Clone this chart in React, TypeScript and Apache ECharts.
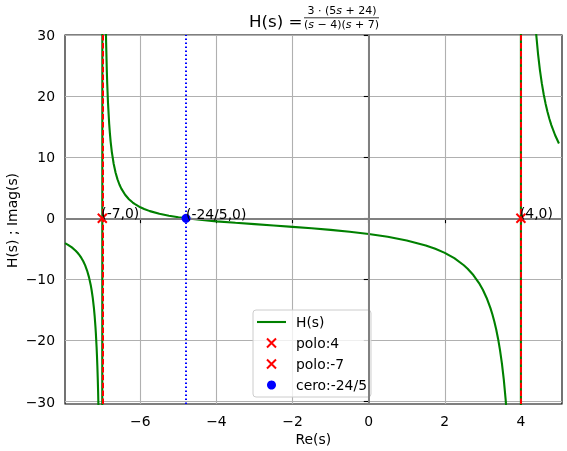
import { useEffect, useRef } from 'react';
import * as echarts from 'echarts';

// H(s), one continuous line that jumps across both poles
const curveX = [
    -7.98, -7.9, -7.8, -7.7, -7.65, -7.6, -7.55, -7.5, -7.45, -7.4, -7.35, -7.3, -7.28, -7.25, -7.22, -7.2, -7.18, -7.17,
    -7.15, -7.14, -7.13, -7.12, -7.11, -7.1, -7.08, -7.01,
    -6.99, -6.97, -6.95, -6.92, -6.9, -6.88, -6.87, -6.85, -6.82, -6.8, -6.78, -6.75, -6.7, -6.65, -6.6, -6.55, -6.5,
    -6.4, -6.3, -6.2, -6.15, -6, -5.9, -5.75, -5.5, -5.25, -5,
    -4.8, -4.5, -4, -3.5, -3, -2.5, -2, -1.5, -1, -0.5, 0, 0.5, 1, 1.5, 1.75, 2, 2.25, 2.5, 2.6, 2.75, 2.9,
    3, 3.1, 3.2, 3.25, 3.3, 3.35, 3.4, 3.45, 3.5, 3.55, 3.6, 3.65, 3.7, 3.99,
    4.01, 4.1, 4.3, 4.35, 4.4, 4.45, 4.5, 4.55, 4.6, 4.65, 4.7, 4.75, 4.8, 4.9, 5.0,
];
const curveY = [
    -4.063, -4.342, -4.767, -5.311, -5.645, -6.034, -6.494, -7.043, -7.715, -8.553, -9.629, -11.06, -11.78, -13.07, -14.71, -16.07, -17.74, -18.72,
    -21.08, -22.51, -24.16, -26.08, -28.35, -31.08, -38.58, -301.1,
    298.9, 98.9, 58.9, 36.4, 28.9, 23.9, 21.97, 18.89, 15.56, 13.89, 12.52, 10.88, 8.879, 7.445, 6.368, 5.529, 4.857,
    3.846, 3.121, 2.574, 2.347, 1.8, 1.515, 1.169, 0.7368, 0.417, 0.1667,
    0, -0.2118, -0.5, -0.7429, -0.9643, -1.179, -1.4, -1.636, -1.9, -2.205, -2.571, -3.029, -3.625, -4.447, -4.99, -5.667, -6.533, -7.684, -8.259, -9.292, -10.61,
    -11.7, -13.04, -14.71, -15.71, -16.85, -18.17, -19.71, -21.53, -23.71, -26.38, -29.72, -34.0, -39.72, -1199.7,
    1200.3, 120.3, 40.27, 34.55, 30.26, 26.93, 24.26, 22.08, 20.26, 18.72, 17.4, 16.26, 15.25, 13.59, 12.25,
];

const poles = [4, -7];
const zeros = [-4.8];
const pointLabels = ['(4,0)', '(-7,0)', '(-24/5,0)'];
const seriesNames = ['H(s)', 'polo:4', 'polo:-7', 'cero:-24/5'];

const xTicks = [-6, -4, -2, 0, 2, 4];
const yTicks = [-30, -20, -10, 0, 10, 20, 30];

const FONT = 'DejaVu Sans';
const CROSS = 'path://M0,0L10,10M0,10L10,0';
const LINE_ICON = 'path://M0,0L29,0L29,2.1L0,2.1Z';

const minus = (v: number) => (v < 0 ? '\u2212' + Math.abs(v) : String(v));

export default function App() {
    const chartRef = useRef<HTMLDivElement>(null);

    useEffect(() => {
        if (!chartRef.current) return;
        const chart = echarts.init(chartRef.current, null, { renderer: 'svg' });

        const curve = curveX.map((x, i) => [x, curveY[i]]);

        const vLine = (x: number, color: string, type: any) => ({
            xAxis: x,
            lineStyle: { color, width: 2, type },
        });

        const crossStyle = { color: 'red', borderColor: 'red', borderWidth: 2, opacity: 1 };

        const markerSeries = (name: string, x: number, label: string, symbol: string, isCross: boolean) => ({
            name,
            type: 'scatter',
            z: 5,
            data: [[x, 0]],
            symbol,
            symbolSize: 9,
            symbolKeepAspect: true,
            itemStyle: isCross ? crossStyle : { color: 'blue', opacity: 1 },
            label: {
                show: true,
                formatter: () => label,
                position: [4.5, 7],
                align: 'left',
                verticalAlign: 'bottom',
                fontFamily: FONT,
                fontSize: 13.9,
                color: '#000',
            },
            silent: true,
        });

        const option = {
            animation: false,
            textStyle: { fontFamily: FONT },
            grid: {
                left: 65,
                top: 35,
                right: 5,
                bottom: 47,
                show: true,
                borderColor: '#000',
                borderWidth: 1.1,
                backgroundColor: 'transparent',
            },
            xAxis: {
                type: 'value',
                min: -7.98,
                max: 5.08,
                axisLine: { show: false },
                axisTick: { show: true, customValues: xTicks, length: 4.9, lineStyle: { color: '#000', width: 1.1 } },
                axisLabel: {
                    customValues: xTicks,
                    formatter: minus,
                    margin: 10,
                    fontFamily: FONT,
                    fontSize: 13.9,
                    color: '#000',
                },
                splitLine: { show: true, lineStyle: { color: '#b0b0b0', width: 1.1 } },
            },
            yAxis: {
                type: 'value',
                min: -30.4,
                max: 30,
                axisLine: { show: false },
                axisTick: { show: true, customValues: yTicks, length: 4.9, lineStyle: { color: '#000', width: 1.1 } },
                axisLabel: {
                    customValues: yTicks,
                    formatter: minus,
                    margin: 10,
                    fontFamily: FONT,
                    fontSize: 13.9,
                    color: '#000',
                },
                splitLine: { show: true, lineStyle: { color: '#b0b0b0', width: 1.1 } },
            },
            legend: {
                data: [
                    { name: seriesNames[0], icon: LINE_ICON, itemStyle: { color: '#008000', opacity: 1 } },
                    { name: seriesNames[1], icon: CROSS, itemStyle: crossStyle },
                    { name: seriesNames[2], icon: CROSS, itemStyle: crossStyle },
                    { name: seriesNames[3], icon: 'circle', itemStyle: { color: 'blue', opacity: 1 } },
                ],
                orient: 'vertical',
                left: 253,
                top: 310,
                padding: [5, 4, 5, 4],
                itemGap: 7,
                itemWidth: 29,
                itemHeight: 9,
                selectedMode: false,
                backgroundColor: 'rgba(255,255,255,0.8)',
                borderColor: '#cccccc',
                borderWidth: 1,
                borderRadius: 3,
                textStyle: { fontFamily: FONT, fontSize: 13.9, color: '#000', padding: [0, 0, 0, 5] },
            },
            graphic: [
                {
                    type: 'text',
                    left: 249,
                    top: 12,
                    style: { text: 'H(s) =', fontFamily: FONT, fontSize: 16.7, fill: '#000' },
                },
                {
                    type: 'text',
                    x: 342,
                    y: 10.5,
                    style: {
                        text: '3 · (5{i|s} + 24)',
                        rich: { i: { fontStyle: 'italic', fontFamily: FONT, fontSize: 11 } },
                        fontFamily: FONT,
                        fontSize: 11,
                        fill: '#000',
                        align: 'center',
                        verticalAlign: 'middle',
                    },
                },
                {
                    type: 'line',
                    shape: { x1: 304, y1: 17.8, x2: 379, y2: 17.8 },
                    style: { stroke: '#000', lineWidth: 0.8 },
                },
                {
                    type: 'text',
                    x: 341.5,
                    y: 24.5,
                    style: {
                        text: '({i|s} − 4)({i|s} + 7)',
                        rich: { i: { fontStyle: 'italic', fontFamily: FONT, fontSize: 11 } },
                        fontFamily: FONT,
                        fontSize: 11,
                        fill: '#000',
                        align: 'center',
                        verticalAlign: 'middle',
                    },
                },
                {
                    type: 'text',
                    x: 313.3,
                    y: 439,
                    style: { text: 'Re(s)', fontFamily: FONT, fontSize: 13.9, fill: '#000', align: 'center', verticalAlign: 'middle' },
                },
                {
                    type: 'text',
                    x: 11.5,
                    y: 220.5,
                    rotation: Math.PI / 2,
                    style: { text: 'H(s) ; Imag(s)', fontFamily: FONT, fontSize: 13.9, fill: '#000', align: 'center', verticalAlign: 'middle' },
                },
            ],
            series: [
                {
                    type: 'line',
                    z: 1,
                    data: [],
                    silent: true,
                    markLine: {
                        silent: true,
                        symbol: ['none', 'none'],
                        label: { show: false },
                        data: [
                            { xAxis: 0, lineStyle: { color: '#808080', width: 2, type: 'solid' } },
                            { yAxis: 0, lineStyle: { color: '#808080', width: 2, type: 'solid' } },
                        ],
                    },
                },
                {
                    name: seriesNames[0],
                    type: 'line',
                    z: 2,
                    data: curve,
                    showSymbol: false,
                    symbol: 'none',
                    clip: true,
                    silent: true,
                    lineStyle: { color: '#008000', width: 2.1 },
                    itemStyle: { color: '#008000' },
                },
                {
                    type: 'line',
                    z: 3,
                    data: [],
                    silent: true,
                    markLine: {
                        silent: true,
                        symbol: ['none', 'none'],
                        label: { show: false },
                        data: [
                            vLine(poles[0], 'red', [5.5, 2.4]),
                            vLine(poles[1], 'red', [5.5, 2.4]),
                            vLine(zeros[0], 'blue', [1.5, 2.5]),
                        ],
                    },
                },
                markerSeries(seriesNames[1], poles[0], pointLabels[0], CROSS, true),
                markerSeries(seriesNames[2], poles[1], pointLabels[1], CROSS, true),
                markerSeries(seriesNames[3], zeros[0], pointLabels[2], 'circle', false),
            ],
        };

        chart.setOption(option as any);

        return () => {
            chart.dispose();
        };
    }, []);

    return (
        <div
            ref={chartRef}
            style={{ position: 'fixed', left: 0, top: 0, width: 567, height: 451 }}
        />
    );
}
